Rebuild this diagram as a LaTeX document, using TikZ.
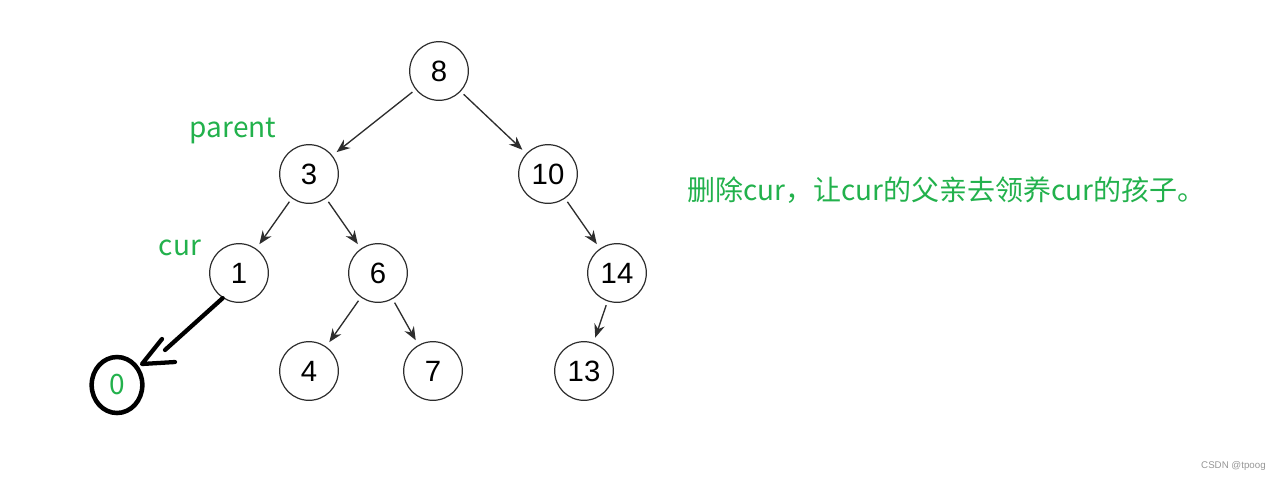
\documentclass[tikz,border=0pt]{standalone}
\usepackage{fontspec}
\setmainfont{Liberation Sans}
\newfontfamily\cjk{Noto Sans CJK SC}
\usetikzlibrary{arrows.meta,shapes.geometric}
\definecolor{paintgreen}{RGB}{34,177,76}
\definecolor{treegray}{RGB}{45,45,45}
\definecolor{markgray}{RGB}{150,150,150}

\begin{document}
\begin{tikzpicture}[x=0.75pt,y=-0.75pt,
  treenode/.style={circle, draw=treegray, line width=0.9pt, minimum size=44pt, inner sep=0pt, font=\fontsize{22}{24}\selectfont},
  treeedge/.style={-{Stealth[length=10pt,width=8pt]}, draw=treegray, line width=1pt, shorten <=3pt, shorten >=4pt},
  greenlabel/.style={text=paintgreen, font=\cjk\fontsize{21}{24}\selectfont, inner sep=0pt},
  handline/.style={line width=3.2pt, line cap=round, line join=round}]
% Page size, in pixels
\useasboundingbox (0,0) rectangle (1281,483);

% The tree
\node[treenode] (n8) at (439,71) {8};
\node[treenode] (n3) at (309,174) {3};
\node[treenode] (n10) at (548,174) {10};
\node[treenode] (n1) at (239,273) {1};
\node[treenode] (n6) at (378,273) {6};
\node[treenode] (n14) at (617,273) {14};
\node[treenode] (n4) at (309,371) {4};
\node[treenode] (n7) at (433,371) {7};
\node[treenode] (n13) at (584,371) {13};

\draw[treeedge] (n8) -- (n3);
\draw[treeedge] (n8) -- (n10);
\draw[treeedge] (n3) -- (n1);
\draw[treeedge] (n3) -- (n6);
\draw[treeedge] (n10) -- (n14);
\draw[treeedge] (n6) -- (n4);
\draw[treeedge] (n6) -- (n7);
\draw[treeedge] (n14) -- (n13);

% The hand-drawn child of cur
\node[ellipse, draw, line width=3.4pt, minimum width=38pt, minimum height=42pt, inner sep=0pt, greenlabel] (n0) at (117,385) {0};
\coordinate (shaftend) at (165,350);
\coordinate (tip) at (142,364);
\coordinate (headA) at (162,339);
\coordinate (headB) at (175,362);
\draw[handline] (n1.237) -- (shaftend);
\draw[handline] (headA) -- (tip) -- (headB);

% Labels
\node[greenlabel] (parentlabel) at (233,131) {parent};
\node[greenlabel] (curlabel) at (180,248) {cur};
\node[greenlabel, anchor=west] (note) at (687,190) {删除cur，让cur的父亲去领养cur的孩子。};
\node[anchor=east, inner sep=0pt, text=markgray, font=\fontsize{7.3}{9}\selectfont] (mark) at (1266,466) {CSDN @tpoog};
\end{tikzpicture}
\end{document}
